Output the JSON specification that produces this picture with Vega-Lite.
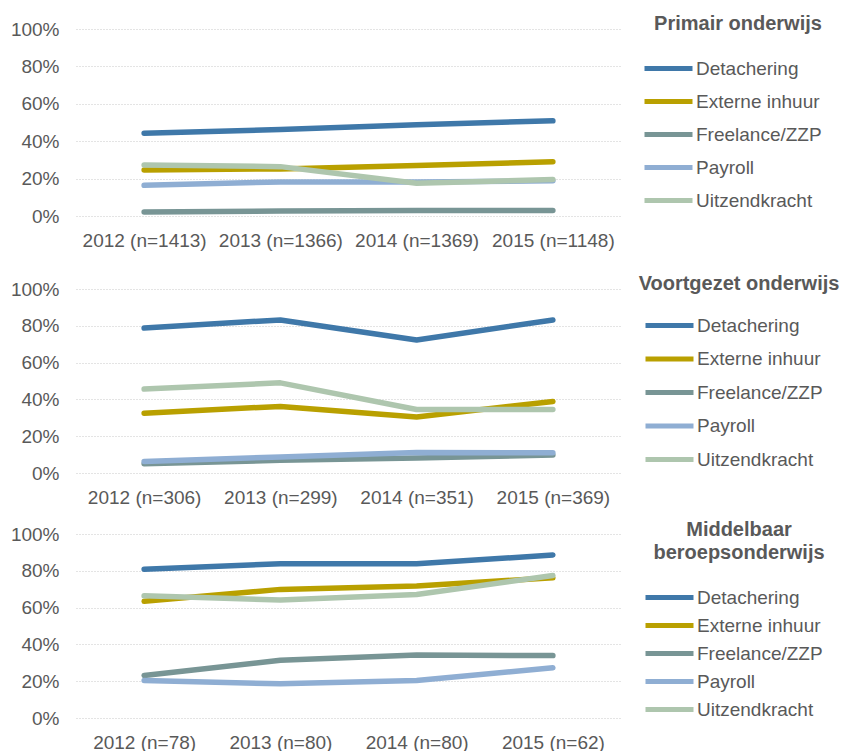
{
  "$schema": "https://vega.github.io/schema/vega-lite/v6.json",
  "background": "white",
  "padding": {"left": 10, "top": 14, "right": 5, "bottom": 5},
  "config": {
    "font": "Liberation Sans",
    "view": {"stroke": null},
    "axis": {"labelFont": "Liberation Sans", "labelFontSize": 19, "labelColor": "#595959", "domain": false, "ticks": false, "title": null},
    "legend": {"labelFont": "Liberation Sans", "labelFontSize": 19, "labelColor": "#595959", "titleFont": "Liberation Sans", "titleFontSize": 20, "titleColor": "#595959", "titleFontWeight": "bold", "titleLimit": 400, "labelLimit": 300, "symbolType": "M-2,0H2", "symbolSize": 576, "symbolStrokeWidth": 5, "labelOffset": 13, "titleAnchor": "middle"}
  },
  "data": {"values": [
    {"panel": "PO", "jaar": "2012 (n=1413)", "type": "Detachering", "pct": 44.3},
    {"panel": "PO", "jaar": "2013 (n=1366)", "type": "Detachering", "pct": 46.2},
    {"panel": "PO", "jaar": "2014 (n=1369)", "type": "Detachering", "pct": 48.8},
    {"panel": "PO", "jaar": "2015 (n=1148)", "type": "Detachering", "pct": 50.9},
    {"panel": "PO", "jaar": "2012 (n=1413)", "type": "Externe inhuur", "pct": 24.6},
    {"panel": "PO", "jaar": "2013 (n=1366)", "type": "Externe inhuur", "pct": 25.2},
    {"panel": "PO", "jaar": "2014 (n=1369)", "type": "Externe inhuur", "pct": 27},
    {"panel": "PO", "jaar": "2015 (n=1148)", "type": "Externe inhuur", "pct": 29},
    {"panel": "PO", "jaar": "2012 (n=1413)", "type": "Freelance/ZZP", "pct": 2.1},
    {"panel": "PO", "jaar": "2013 (n=1366)", "type": "Freelance/ZZP", "pct": 2.7},
    {"panel": "PO", "jaar": "2014 (n=1369)", "type": "Freelance/ZZP", "pct": 2.9},
    {"panel": "PO", "jaar": "2015 (n=1148)", "type": "Freelance/ZZP", "pct": 2.9},
    {"panel": "PO", "jaar": "2012 (n=1413)", "type": "Payroll", "pct": 16.4},
    {"panel": "PO", "jaar": "2013 (n=1366)", "type": "Payroll", "pct": 18.2},
    {"panel": "PO", "jaar": "2014 (n=1369)", "type": "Payroll", "pct": 18.2},
    {"panel": "PO", "jaar": "2015 (n=1148)", "type": "Payroll", "pct": 18.8},
    {"panel": "PO", "jaar": "2012 (n=1413)", "type": "Uitzendkracht", "pct": 27.3},
    {"panel": "PO", "jaar": "2013 (n=1366)", "type": "Uitzendkracht", "pct": 26.4},
    {"panel": "PO", "jaar": "2014 (n=1369)", "type": "Uitzendkracht", "pct": 17.5},
    {"panel": "PO", "jaar": "2015 (n=1148)", "type": "Uitzendkracht", "pct": 19.5},

    {"panel": "VO", "jaar": "2012 (n=306)", "type": "Detachering", "pct": 78.8},
    {"panel": "VO", "jaar": "2013 (n=299)", "type": "Detachering", "pct": 83.2},
    {"panel": "VO", "jaar": "2014 (n=351)", "type": "Detachering", "pct": 72.3},
    {"panel": "VO", "jaar": "2015 (n=369)", "type": "Detachering", "pct": 83.2},
    {"panel": "VO", "jaar": "2012 (n=306)", "type": "Externe inhuur", "pct": 32.5},
    {"panel": "VO", "jaar": "2013 (n=299)", "type": "Externe inhuur", "pct": 36.2},
    {"panel": "VO", "jaar": "2014 (n=351)", "type": "Externe inhuur", "pct": 30.4},
    {"panel": "VO", "jaar": "2015 (n=369)", "type": "Externe inhuur", "pct": 38.9},
    {"panel": "VO", "jaar": "2012 (n=306)", "type": "Freelance/ZZP", "pct": 5},
    {"panel": "VO", "jaar": "2013 (n=299)", "type": "Freelance/ZZP", "pct": 6.9},
    {"panel": "VO", "jaar": "2014 (n=351)", "type": "Freelance/ZZP", "pct": 8.1},
    {"panel": "VO", "jaar": "2015 (n=369)", "type": "Freelance/ZZP", "pct": 9.8},
    {"panel": "VO", "jaar": "2012 (n=306)", "type": "Payroll", "pct": 6.3},
    {"panel": "VO", "jaar": "2013 (n=299)", "type": "Payroll", "pct": 8.7},
    {"panel": "VO", "jaar": "2014 (n=351)", "type": "Payroll", "pct": 11.2},
    {"panel": "VO", "jaar": "2015 (n=369)", "type": "Payroll", "pct": 11},
    {"panel": "VO", "jaar": "2012 (n=306)", "type": "Uitzendkracht", "pct": 45.6},
    {"panel": "VO", "jaar": "2013 (n=299)", "type": "Uitzendkracht", "pct": 49},
    {"panel": "VO", "jaar": "2014 (n=351)", "type": "Uitzendkracht", "pct": 34.5},
    {"panel": "VO", "jaar": "2015 (n=369)", "type": "Uitzendkracht", "pct": 34.5},

    {"panel": "MBO", "jaar": "2012 (n=78)", "type": "Detachering", "pct": 80.9},
    {"panel": "MBO", "jaar": "2013 (n=80)", "type": "Detachering", "pct": 83.8},
    {"panel": "MBO", "jaar": "2014 (n=80)", "type": "Detachering", "pct": 83.8},
    {"panel": "MBO", "jaar": "2015 (n=62)", "type": "Detachering", "pct": 88.6},
    {"panel": "MBO", "jaar": "2012 (n=78)", "type": "Externe inhuur", "pct": 63.4},
    {"panel": "MBO", "jaar": "2013 (n=80)", "type": "Externe inhuur", "pct": 69.9},
    {"panel": "MBO", "jaar": "2014 (n=80)", "type": "Externe inhuur", "pct": 71.8},
    {"panel": "MBO", "jaar": "2015 (n=62)", "type": "Externe inhuur", "pct": 76.2},
    {"panel": "MBO", "jaar": "2012 (n=78)", "type": "Freelance/ZZP", "pct": 23.1},
    {"panel": "MBO", "jaar": "2013 (n=80)", "type": "Freelance/ZZP", "pct": 31.4},
    {"panel": "MBO", "jaar": "2014 (n=80)", "type": "Freelance/ZZP", "pct": 34.3},
    {"panel": "MBO", "jaar": "2015 (n=62)", "type": "Freelance/ZZP", "pct": 33.9},
    {"panel": "MBO", "jaar": "2012 (n=78)", "type": "Payroll", "pct": 20.4},
    {"panel": "MBO", "jaar": "2013 (n=80)", "type": "Payroll", "pct": 18.6},
    {"panel": "MBO", "jaar": "2014 (n=80)", "type": "Payroll", "pct": 20.4},
    {"panel": "MBO", "jaar": "2015 (n=62)", "type": "Payroll", "pct": 27.3},
    {"panel": "MBO", "jaar": "2012 (n=78)", "type": "Uitzendkracht", "pct": 66.4},
    {"panel": "MBO", "jaar": "2013 (n=80)", "type": "Uitzendkracht", "pct": 64.1},
    {"panel": "MBO", "jaar": "2014 (n=80)", "type": "Uitzendkracht", "pct": 67.1},
    {"panel": "MBO", "jaar": "2015 (n=62)", "type": "Uitzendkracht", "pct": 77.4}
  ]},
  "bounds": "flush",
  "spacing": 73,
  "resolve": {"scale": {"x": "independent", "color": "independent"}, "legend": {"color": "independent"}},
  "vconcat": [
    {
      "width": 545, "height": 187,
      "transform": [{"filter": "datum.panel === 'PO'"}],
      "mark": {"type": "line", "strokeWidth": 5.5, "strokeCap": "round", "strokeJoin": "round"},
      "encoding": {
        "x": {"field": "jaar", "type": "ordinal", "sort": null, "scale": {"type": "point", "padding": 0.5}, "axis": {"labelAngle": 0, "labelPadding": 15, "grid": false}},
        "y": {"field": "pct", "type": "quantitative", "scale": {"domain": [0, 100]}, "axis": {"values": [0, 20, 40, 60, 80, 100], "labelExpr": "datum.value + '%'", "labelPadding": 17, "gridColor": "#C8C8C8", "gridDash": [1, 2], "gridWidth": 1}},
        "color": {"field": "type", "type": "nominal", "sort": null,
          "scale": {"domain": ["Detachering", "Externe inhuur", "Freelance/ZZP", "Payroll", "Uitzendkracht"], "range": ["#3F78A9", "#B9A000", "#789595", "#8FAED3", "#AEC6AE"]},
          "legend": {"title": "Primair onderwijs", "orient": "none", "legendX": 578, "legendY": -15, "titlePadding": 20, "rowPadding": 8}}
      }
    },
    {
      "bounds": "flush",
      "spacing": 61,
      "resolve": {"scale": {"x": "independent", "color": "independent"}, "legend": {"color": "independent"}},
      "vconcat": [
        {
          "width": 545, "height": 184,
          "transform": [{"filter": "datum.panel === 'VO'"}],
          "mark": {"type": "line", "strokeWidth": 5.5, "strokeCap": "round", "strokeJoin": "round"},
          "encoding": {
            "x": {"field": "jaar", "type": "ordinal", "sort": null, "scale": {"type": "point", "padding": 0.5}, "axis": {"labelAngle": 0, "labelPadding": 15, "grid": false}},
            "y": {"field": "pct", "type": "quantitative", "scale": {"domain": [0, 100]}, "axis": {"values": [0, 20, 40, 60, 80, 100], "labelExpr": "datum.value + '%'", "labelPadding": 17, "gridColor": "#C8C8C8", "gridDash": [1, 2], "gridWidth": 1}},
            "color": {"field": "type", "type": "nominal", "sort": null,
              "scale": {"domain": ["Detachering", "Externe inhuur", "Freelance/ZZP", "Payroll", "Uitzendkracht"], "range": ["#3F78A9", "#B9A000", "#789595", "#8FAED3", "#AEC6AE"]},
              "legend": {"title": "Voortgezet onderwijs", "orient": "none", "legendX": 563, "legendY": -15, "titlePadding": 17, "rowPadding": 8.5}}
          }
        },
        {
          "width": 545, "height": 184,
          "transform": [{"filter": "datum.panel === 'MBO'"}],
          "mark": {"type": "line", "strokeWidth": 5.5, "strokeCap": "round", "strokeJoin": "round"},
          "encoding": {
            "x": {"field": "jaar", "type": "ordinal", "sort": null, "scale": {"type": "point", "padding": 0.5}, "axis": {"labelAngle": 0, "labelPadding": 15, "grid": false}},
            "y": {"field": "pct", "type": "quantitative", "scale": {"domain": [0, 100]}, "axis": {"values": [0, 20, 40, 60, 80, 100], "labelExpr": "datum.value + '%'", "labelPadding": 17, "gridColor": "#C8C8C8", "gridDash": [1, 2], "gridWidth": 1}},
            "color": {"field": "type", "type": "nominal", "sort": null,
              "scale": {"domain": ["Detachering", "Externe inhuur", "Freelance/ZZP", "Payroll", "Uitzendkracht"], "range": ["#3F78A9", "#B9A000", "#789595", "#8FAED3", "#AEC6AE"]},
              "legend": {"title": ["Middelbaar", "beroepsonderwijs"], "orient": "none", "legendX": 577, "legendY": -14, "titlePadding": 20, "rowPadding": 3, "titleLineHeight": 23}}
          }
        }
      ]
    }
  ]
}
